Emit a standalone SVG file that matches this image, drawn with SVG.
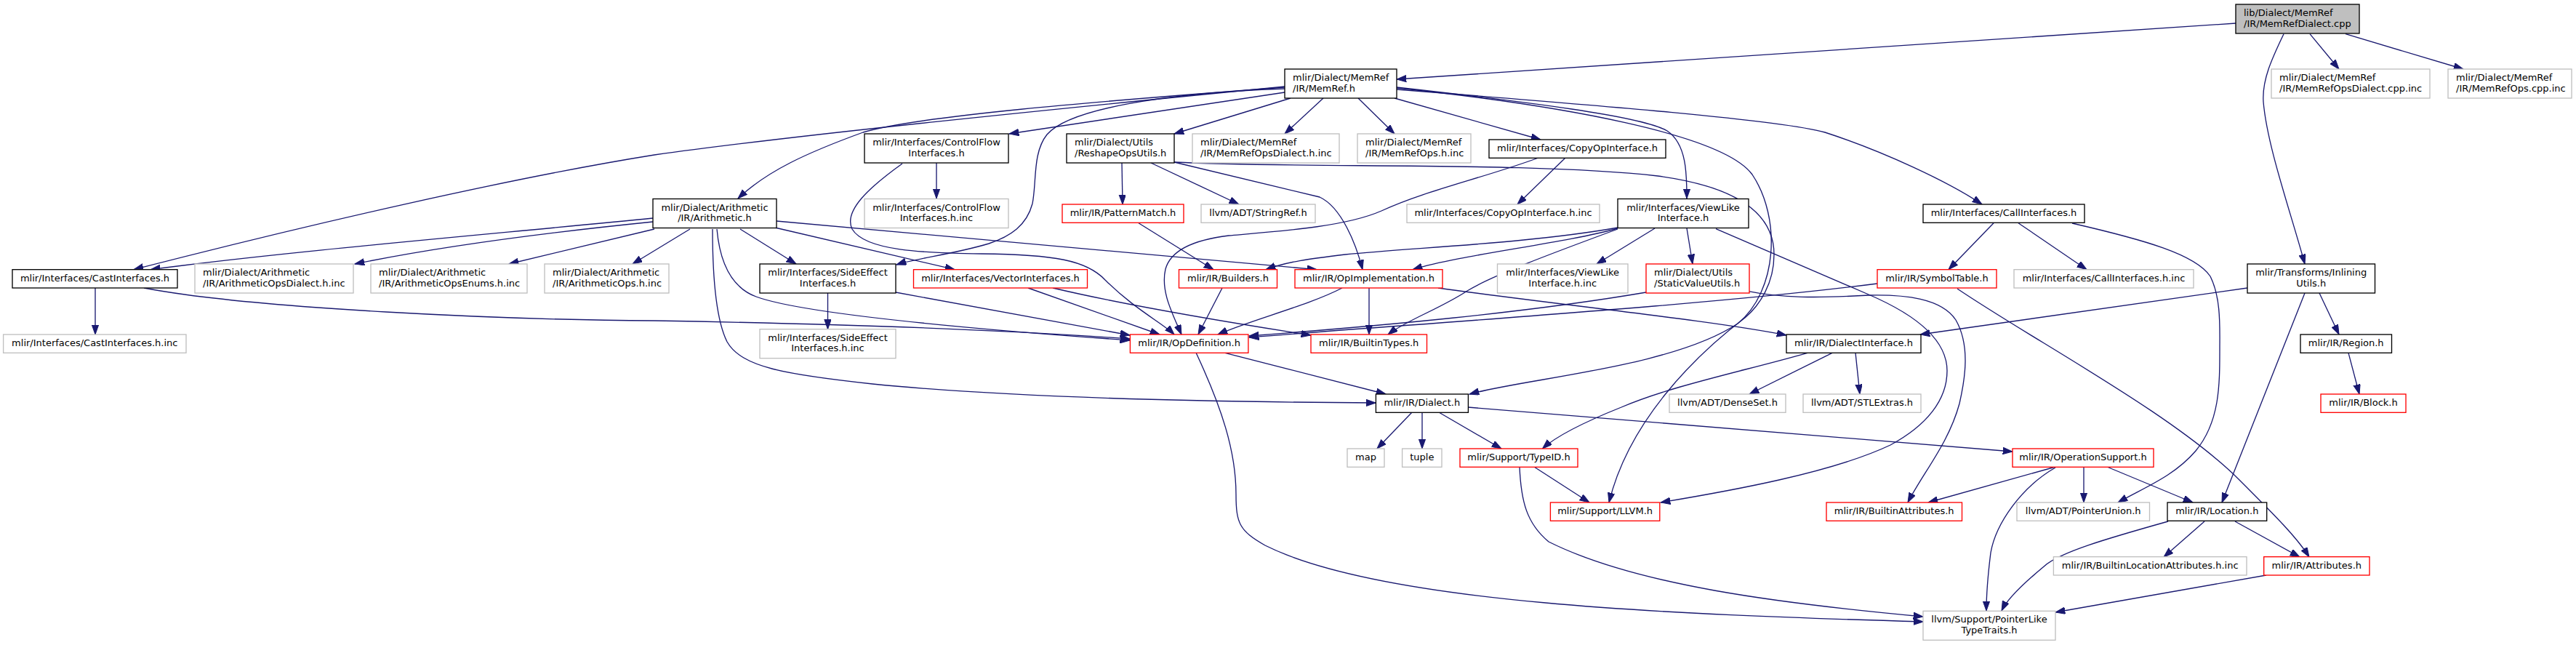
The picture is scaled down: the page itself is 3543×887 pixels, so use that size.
<svg xmlns="http://www.w3.org/2000/svg" width="3543" height="887" viewBox="0 0 3543 887">
<style>
.node rect{fill:#fff;stroke-width:1.33}
.k rect{stroke:#000}
.g rect{stroke:#bfbfbf}
.r rect{stroke:#f00}
.root rect{fill:#bfbfbf;stroke:#000}
text{font-family:"DejaVu Sans","Liberation Sans",sans-serif;font-size:13px;fill:#000}
.c{text-anchor:middle}
#edges path{fill:none;stroke:#191970;stroke-width:1.33;marker-end:url(#ah)}
</style>
<defs>
<marker id="ah" markerUnits="userSpaceOnUse" markerWidth="14" markerHeight="10" refX="13.3" refY="4.7" orient="auto" viewBox="0 0 14 10">
<path d="M0,0 L13.3,4.7 L0,9.4 z" fill="#191970" stroke="#191970" stroke-width="1"/>
</marker>
</defs>
<rect width="3543" height="887" fill="#fff"/>
<g id="edges">
<path d="M3075,32 L1921,109"/>
<path d="M3177,46.7 L3217,95"/>
<path d="M3226,46.7 L3388,95"/>
<path d="M3141,46.7 C3125,80 3111,110 3113,140 C3118,200 3150,290 3170,363"/>
<path d="M1767,119 C1450,150 1100,185 900,213 C700,245 420,310 184,370.7"/>
<path d="M1767,120 C1500,140 1260,160 1187,182 C1110,210 1055,235 1015,273"/>
<path d="M1767,122 C1600,128 1470,150 1440,185 C1420,210 1426,250 1420,280 C1412,310 1390,325 1360,335 C1310,350 1260,355 1233,364"/>
<path d="M1767,127 L1388,184"/>
<path d="M1775,135 L1615,184"/>
<path d="M1820,135 L1767,184"/>
<path d="M1868,135 L1918,184"/>
<path d="M1918,135 L2119,192"/>
<path d="M1921,120 C2100,140 2260,160 2293,180 C2320,198 2320,240 2320,273"/>
<path d="M1921,121 C2150,145 2370,185 2410,240 C2450,300 2445,400 2390,445 C2300,505 2100,520 2021,542"/>
<path d="M1921,123 C2200,145 2450,165 2510,182 C2590,208 2680,250 2726,281"/>
<path d="M1543,224 L1544,281"/>
<path d="M1583,224 L1704,281"/>
<path d="M1615,223 L1815,271 C1845,285 1865,335 1874,370.7"/>
<path d="M1615,223 C1800,232 2100,222 2280,242 C2400,258 2440,300 2440,350 C2440,390 2420,420 2400,437 C2330,490 2240,580 2213,691"/>
<path d="M1288,224 L1288,273"/>
<path d="M1241,225 C1195,258 1160,290 1172,315 C1190,345 1270,348 1350,349 C1450,350 1495,358 1520,385 C1560,425 1600,445 1615,460"/>
<path d="M2153,217 L2087,281"/>
<path d="M2116,217 C2040,245 1960,262 1900,290 C1850,312 1760,318 1690,324 C1640,330 1610,345 1603,370 C1596,400 1612,430 1625,460"/>
<path d="M898,300 C700,320 400,345 207,370.7"/>
<path d="M898,305 C750,320 600,340 488,363"/>
<path d="M900,315 L700,363"/>
<path d="M949,315 L870,363"/>
<path d="M1018,315 L1095,363"/>
<path d="M1066,313 L1313,370.7"/>
<path d="M1068,304 L1811,370.7"/>
<path d="M986,315 C990,360 1005,395 1040,408 C1100,430 1300,450 1554,468"/>
<path d="M980,315 C980,380 985,440 1000,470 C1020,505 1080,515 1200,528 C1400,548 1700,553 1892,554"/>
<path d="M131,396 L131,460"/>
<path d="M198,396 C350,425 700,440 900,441 C1200,446 1400,455 1554,466"/>
<path d="M1138.5,403 L1138.5,452.7"/>
<path d="M1232,402 L1554,461"/>
<path d="M1414,396 L1595,460"/>
<path d="M1448,396 C1550,420 1700,445 1803,461"/>
<path d="M1566,306.7 L1669,370.7"/>
<path d="M1681,396 L1648,460"/>
<path d="M1846,396 C1800,420 1720,440 1675,460"/>
<path d="M1883,396 L1883,460"/>
<path d="M1978,396 C2150,420 2350,440 2457,461"/>
<path d="M2225,313 C2100,335 1950,340 1850,350 C1800,356 1770,360 1741,370.7"/>
<path d="M2225,314 C2150,335 2010,350 1943,370.7"/>
<path d="M2225,315 C2130,350 2050,380 2018,400 C1980,425 1935,440 1909,460"/>
<path d="M2276,314 L2196,363"/>
<path d="M2320,314 L2328,363"/>
<path d="M2360,314.6 L2570,405 C2640,435 2678,470 2678,510 C2678,550 2650,585 2600,612 C2520,650 2380,675 2284,691"/>
<path d="M2264,402 C2100,430 1900,448 1718,462"/>
<path d="M2405,400.7 C2450,410 2500,410 2571,406 C2620,405 2670,410 2690,440 C2710,475 2703,520 2695,555 C2680,610 2645,650 2624,691"/>
<path d="M2742,306.7 L2680,370.7"/>
<path d="M2776,306.7 L2870,370.7"/>
<path d="M2850,307 C2950,330 3020,350 3040,380 C3055,410 3053,450 3053,480 C3053,530 3053,580 3020,620 C2990,655 2950,670 2913,691"/>
<path d="M2582,390 C2350,420 1950,445 1718,464"/>
<path d="M2692,397 C2800,470 2990,570 3080,660 C3130,710 3160,740 3176,766"/>
<path d="M3091,396 L2641,460"/>
<path d="M3170,403 L3056,691"/>
<path d="M3190,403 L3217,460"/>
<path d="M3230,485.3 L3245,542"/>
<path d="M2486,485.3 C2400,510 2300,530 2230,560 C2180,580 2140,600 2121.5,617"/>
<path d="M2520,485.3 L2406,542"/>
<path d="M2552,485.3 L2558,542"/>
<path d="M1685,485.3 L1906,542"/>
<path d="M1645,485 C1680,560 1700,620 1700,680 C1700,720 1705,730 1740,750 C1900,830 2300,845 2645,855"/>
<path d="M1942,567 L1894,617"/>
<path d="M1956,567 L1956,617"/>
<path d="M1979,567 L2065,617"/>
<path d="M2019,560 L2768,621"/>
<path d="M2110,642 L2186,691"/>
<path d="M2090,642 C2092,690 2100,720 2130,745 C2250,805 2450,830 2645,848"/>
<path d="M2827,642 L2652,691"/>
<path d="M2866,642 L2866,691"/>
<path d="M2898,642 L3016,691"/>
<path d="M2827,643 C2780,670 2745,720 2738,760 C2733,800 2732,820 2732,840"/>
<path d="M2982,717 C2900,740 2830,760 2810,780 C2780,805 2760,825 2753,840"/>
<path d="M3032,717 L2976,766"/>
<path d="M3074,717 L3163,766"/>
<path d="M3117,791 L2827,842"/>
</g>
<g id="n_cpp" class="node root"><rect x="3075" y="6" width="170" height="40"/><text x="3086" y="22">lib/Dialect/MemRef</text><text x="3086" y="36.7">/IR/MemRefDialect.cpp</text></g>
<g id="n_memref" class="node k"><rect x="1767" y="95" width="154" height="40"/><text x="1778" y="111">mlir/Dialect/MemRef</text><text x="1778" y="125.7">/IR/MemRef.h</text></g>
<g id="n_opsdialectcppinc" class="node g"><rect x="3124" y="95" width="218" height="40"/><text x="3135" y="111">mlir/Dialect/MemRef</text><text x="3135" y="125.7">/IR/MemRefOpsDialect.cpp.inc</text></g>
<g id="n_opscppinc" class="node g"><rect x="3367" y="95" width="170" height="40"/><text x="3378" y="111">mlir/Dialect/MemRef</text><text x="3378" y="125.7">/IR/MemRefOps.cpp.inc</text></g>
<g id="n_cflow" class="node k"><rect x="1189" y="184" width="198" height="40"/><text class="c" x="1288" y="200">mlir/Interfaces/ControlFlow</text><text class="c" x="1288" y="214.7">Interfaces.h</text></g>
<g id="n_reshape" class="node k"><rect x="1467" y="184" width="148" height="40"/><text x="1478" y="200">mlir/Dialect/Utils</text><text x="1478" y="214.7">/ReshapeOpsUtils.h</text></g>
<g id="n_opsdialecthinc" class="node g"><rect x="1640" y="184" width="202" height="40"/><text x="1651" y="200">mlir/Dialect/MemRef</text><text x="1651" y="214.7">/IR/MemRefOpsDialect.h.inc</text></g>
<g id="n_opshinc" class="node g"><rect x="1867" y="184" width="156" height="40"/><text x="1878" y="200">mlir/Dialect/MemRef</text><text x="1878" y="214.7">/IR/MemRefOps.h.inc</text></g>
<g id="n_copyop" class="node k"><rect x="2048" y="192" width="243" height="25.3"/><text class="c" x="2169.5" y="208.3">mlir/Interfaces/CopyOpInterface.h</text></g>
<g id="n_arith" class="node k"><rect x="898" y="273.5" width="170" height="40"/><text class="c" x="983" y="289.5">mlir/Dialect/Arithmetic</text><text class="c" x="983" y="304.2">/IR/Arithmetic.h</text></g>
<g id="n_cflowinc" class="node g"><rect x="1189" y="273.5" width="198" height="40"/><text class="c" x="1288" y="289.5">mlir/Interfaces/ControlFlow</text><text class="c" x="1288" y="304.2">Interfaces.h.inc</text></g>
<g id="n_pattern" class="node r"><rect x="1461" y="281" width="167" height="25.3"/><text class="c" x="1544.5" y="297.3">mlir/IR/PatternMatch.h</text></g>
<g id="n_stringref" class="node g"><rect x="1652" y="281" width="157" height="25.3"/><text class="c" x="1730.5" y="297.3">llvm/ADT/StringRef.h</text></g>
<g id="n_copyopinc" class="node g"><rect x="1935" y="281" width="265" height="25.3"/><text class="c" x="2067.5" y="297.3">mlir/Interfaces/CopyOpInterface.h.inc</text></g>
<g id="n_viewlike" class="node k"><rect x="2225" y="273.5" width="180" height="40"/><text class="c" x="2315" y="289.5">mlir/Interfaces/ViewLike</text><text class="c" x="2315" y="304.2">Interface.h</text></g>
<g id="n_call" class="node k"><rect x="2645" y="281" width="222" height="25.3"/><text class="c" x="2756" y="297.3">mlir/Interfaces/CallInterfaces.h</text></g>
<g id="n_cast" class="node k"><rect x="17" y="370.7" width="227" height="25.3"/><text class="c" x="130.5" y="387">mlir/Interfaces/CastInterfaces.h</text></g>
<g id="n_arithdialectinc" class="node g"><rect x="268" y="363" width="218" height="40"/><text x="279" y="379">mlir/Dialect/Arithmetic</text><text x="279" y="393.7">/IR/ArithmeticOpsDialect.h.inc</text></g>
<g id="n_arithenumsinc" class="node g"><rect x="510" y="363" width="215" height="40"/><text x="521" y="379">mlir/Dialect/Arithmetic</text><text x="521" y="393.7">/IR/ArithmeticOpsEnums.h.inc</text></g>
<g id="n_arithopsinc" class="node g"><rect x="749" y="363" width="171" height="40"/><text x="760" y="379">mlir/Dialect/Arithmetic</text><text x="760" y="393.7">/IR/ArithmeticOps.h.inc</text></g>
<g id="n_sideeffect" class="node k"><rect x="1045" y="363" width="187" height="40"/><text class="c" x="1138.5" y="379">mlir/Interfaces/SideEffect</text><text class="c" x="1138.5" y="393.7">Interfaces.h</text></g>
<g id="n_vector" class="node r"><rect x="1256.5" y="370.7" width="239" height="25.3"/><text class="c" x="1376" y="387">mlir/Interfaces/VectorInterfaces.h</text></g>
<g id="n_builders" class="node r"><rect x="1621.5" y="370.7" width="135" height="25.3"/><text class="c" x="1689" y="387">mlir/IR/Builders.h</text></g>
<g id="n_opimpl" class="node r"><rect x="1781" y="370.7" width="203" height="25.3"/><text class="c" x="1882.5" y="387">mlir/IR/OpImplementation.h</text></g>
<g id="n_viewlikeinc" class="node g"><rect x="2059.5" y="363" width="179.5" height="40"/><text class="c" x="2149.2" y="379">mlir/Interfaces/ViewLike</text><text class="c" x="2149.2" y="393.7">Interface.h.inc</text></g>
<g id="n_staticvalue" class="node r"><rect x="2264" y="363" width="142" height="40"/><text x="2275" y="379">mlir/Dialect/Utils</text><text x="2275" y="393.7">/StaticValueUtils.h</text></g>
<g id="n_symbol" class="node r"><rect x="2582" y="370.7" width="164" height="25.3"/><text class="c" x="2664" y="387">mlir/IR/SymbolTable.h</text></g>
<g id="n_callinc" class="node g"><rect x="2770" y="370.7" width="247" height="25.3"/><text class="c" x="2893.5" y="387">mlir/Interfaces/CallInterfaces.h.inc</text></g>
<g id="n_inlining" class="node k"><rect x="3091" y="363" width="175.5" height="40"/><text class="c" x="3178.7" y="379">mlir/Transforms/Inlining</text><text class="c" x="3178.7" y="393.7">Utils.h</text></g>
<g id="n_castinc" class="node g"><rect x="4.6" y="460" width="251.4" height="25.3"/><text class="c" x="130.3" y="476.3">mlir/Interfaces/CastInterfaces.h.inc</text></g>
<g id="n_sideeffectinc" class="node g"><rect x="1045" y="452.7" width="187" height="40"/><text class="c" x="1138.5" y="468.7">mlir/Interfaces/SideEffect</text><text class="c" x="1138.5" y="483.4">Interfaces.h.inc</text></g>
<g id="n_opdef" class="node r"><rect x="1554.4" y="460" width="162.5" height="25.3"/><text class="c" x="1635.6" y="476.3">mlir/IR/OpDefinition.h</text></g>
<g id="n_builtintypes" class="node r"><rect x="1803" y="460" width="159.5" height="25.3"/><text class="c" x="1882.7" y="476.3">mlir/IR/BuiltinTypes.h</text></g>
<g id="n_dialectiface" class="node k"><rect x="2457" y="460" width="185" height="25.3"/><text class="c" x="2549.5" y="476.3">mlir/IR/DialectInterface.h</text></g>
<g id="n_region" class="node k"><rect x="3164" y="460" width="125.5" height="25.3"/><text class="c" x="3226.7" y="476.3">mlir/IR/Region.h</text></g>
<g id="n_dialect" class="node k"><rect x="1892.4" y="542" width="127" height="25.3"/><text class="c" x="1955.9" y="558.3">mlir/IR/Dialect.h</text></g>
<g id="n_denseset" class="node g"><rect x="2296" y="542" width="160" height="25.3"/><text class="c" x="2376" y="558.3">llvm/ADT/DenseSet.h</text></g>
<g id="n_stlextras" class="node g"><rect x="2480" y="542" width="162" height="25.3"/><text class="c" x="2561" y="558.3">llvm/ADT/STLExtras.h</text></g>
<g id="n_block" class="node r"><rect x="3192" y="542" width="117" height="25.3"/><text class="c" x="3250.5" y="558.3">mlir/IR/Block.h</text></g>
<g id="n_map" class="node g"><rect x="1853" y="617" width="51" height="25.3"/><text class="c" x="1878.5" y="633.3">map</text></g>
<g id="n_tuple" class="node g"><rect x="1928.6" y="617" width="54.4" height="25.3"/><text class="c" x="1955.8" y="633.3">tuple</text></g>
<g id="n_typeid" class="node r"><rect x="2008" y="617" width="162" height="25.3"/><text class="c" x="2089" y="633.3">mlir/Support/TypeID.h</text></g>
<g id="n_opsupport" class="node r"><rect x="2768" y="617" width="194" height="25.3"/><text class="c" x="2865" y="633.3">mlir/IR/OperationSupport.h</text></g>
<g id="n_llvm" class="node r"><rect x="2132.4" y="691" width="150.4" height="25.3"/><text class="c" x="2207.6" y="707.3">mlir/Support/LLVM.h</text></g>
<g id="n_builtinattrs" class="node r"><rect x="2512" y="691" width="186.5" height="25.3"/><text class="c" x="2605.2" y="707.3">mlir/IR/BuiltinAttributes.h</text></g>
<g id="n_ptrunion" class="node g"><rect x="2774" y="691" width="182.5" height="25.3"/><text class="c" x="2865.2" y="707.3">llvm/ADT/PointerUnion.h</text></g>
<g id="n_location" class="node k"><rect x="2981" y="691" width="136.7" height="25.3"/><text class="c" x="3049.3" y="707.3">mlir/IR/Location.h</text></g>
<g id="n_builtinlocinc" class="node g"><rect x="2824.4" y="765.7" width="265.6" height="25.3"/><text class="c" x="2957.2" y="782">mlir/IR/BuiltinLocationAttributes.h.inc</text></g>
<g id="n_attrs" class="node r"><rect x="3113.7" y="765.7" width="145.3" height="25.3"/><text class="c" x="3186.3" y="782">mlir/IR/Attributes.h</text></g>
<g id="n_ptrlike" class="node g"><rect x="2645" y="840.3" width="182" height="40"/><text class="c" x="2736" y="856.3">llvm/Support/PointerLike</text><text class="c" x="2736" y="871">TypeTraits.h</text></g>
</svg>
